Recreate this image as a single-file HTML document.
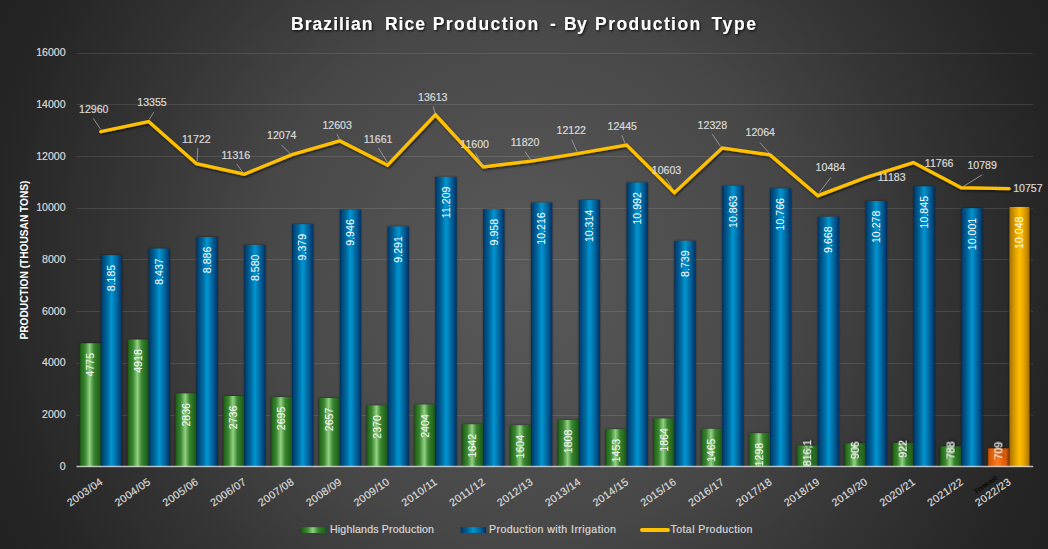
<!DOCTYPE html>
<html><head><meta charset="utf-8"><style>
html,body{margin:0;padding:0;background:#222;}
svg{display:block;}
text{font-family:"Liberation Sans", sans-serif;}
.t{stroke:#d9d9d9;stroke-width:0.2px;}
.w{stroke:#ffffff;stroke-width:0.25px;}
</style></head><body>
<svg width="1048" height="549" viewBox="0 0 1048 549">
<defs>
<radialGradient id="bg" gradientUnits="userSpaceOnUse" cx="524" cy="274" r="600">
<stop offset="0" stop-color="#5a5a5a"/>
<stop offset="0.073" stop-color="#575757"/>
<stop offset="0.447" stop-color="#474747"/>
<stop offset="0.667" stop-color="#353535"/>
<stop offset="0.895" stop-color="#252525"/>
<stop offset="0.975" stop-color="#222222"/>
<stop offset="1" stop-color="#222222"/>
</radialGradient>
<linearGradient id="gG" x1="0" x2="1" y1="0" y2="0">
<stop offset="0" stop-color="#1a4a14"/>
<stop offset="0.08" stop-color="#246c1c"/>
<stop offset="0.25" stop-color="#3a8430"/>
<stop offset="0.47" stop-color="#92d282"/>
<stop offset="0.67" stop-color="#3a8430"/>
<stop offset="0.88" stop-color="#236a1e"/>
<stop offset="1" stop-color="#1e5020"/>
</linearGradient>
<linearGradient id="gB" x1="0" x2="1" y1="0" y2="0">
<stop offset="0" stop-color="#00305a"/>
<stop offset="0.08" stop-color="#004478"/>
<stop offset="0.3" stop-color="#00689c"/>
<stop offset="0.5" stop-color="#0095d2"/>
<stop offset="0.7" stop-color="#0070a8"/>
<stop offset="0.9" stop-color="#00467e"/>
<stop offset="1" stop-color="#002f5c"/>
</linearGradient>
<linearGradient id="gY" x1="0" x2="1" y1="0" y2="0">
<stop offset="0" stop-color="#5a3a00"/>
<stop offset="0.06" stop-color="#b07a00"/>
<stop offset="0.3" stop-color="#e0a000"/>
<stop offset="0.5" stop-color="#ffbf00"/>
<stop offset="0.7" stop-color="#e8a400"/>
<stop offset="0.92" stop-color="#b07c00"/>
<stop offset="1" stop-color="#3a2a00"/>
</linearGradient>
<linearGradient id="gO" x1="0" x2="1" y1="0" y2="0">
<stop offset="0" stop-color="#a84000"/>
<stop offset="0.1" stop-color="#d85a0a"/>
<stop offset="0.45" stop-color="#ff7a1a"/>
<stop offset="0.85" stop-color="#d85a0a"/>
<stop offset="1" stop-color="#903800"/>
</linearGradient>
<filter id="tsh" x="-10%" y="-30%" width="130%" height="170%">
<feDropShadow dx="1.2" dy="1.2" stdDeviation="0.8" flood-color="#000" flood-opacity="0.8"/>
</filter>
<filter id="bsh" x="-5%" y="-5%" width="110%" height="110%">
<feGaussianBlur in="SourceAlpha" stdDeviation="1"/>
<feComponentTransfer><feFuncA type="linear" slope="0.55"/></feComponentTransfer>
<feMerge><feMergeNode/><feMergeNode in="SourceGraphic"/></feMerge>
</filter>
<filter id="lsh" x="-5%" y="-20%" width="110%" height="140%">
<feDropShadow dx="1" dy="1.5" stdDeviation="1" flood-color="#000" flood-opacity="0.6"/>
</filter>
</defs>
<rect x="0" y="0" width="1048" height="549" fill="url(#bg)"/>
<g filter="url(#tsh)"><text x="291.0" y="29.7" font-size="17.5" font-weight="bold" fill="#ffffff" textLength="81.4" lengthAdjust="spacing">Brazilian</text><text x="385.0" y="29.7" font-size="17.5" font-weight="bold" fill="#ffffff" textLength="39.9" lengthAdjust="spacing">Rice</text><text x="432.7" y="29.7" font-size="17.5" font-weight="bold" fill="#ffffff" textLength="105.5" lengthAdjust="spacing">Production</text><text x="549.9" y="29.7" font-size="17.5" font-weight="bold" fill="#ffffff" textLength="6.9" lengthAdjust="spacing">-</text><text x="564.1" y="29.7" font-size="17.5" font-weight="bold" fill="#ffffff" textLength="22.7" lengthAdjust="spacing">By</text><text x="595.1" y="29.7" font-size="17.5" font-weight="bold" fill="#ffffff" textLength="105.1" lengthAdjust="spacing">Production</text><text x="711.4" y="29.7" font-size="17.5" font-weight="bold" fill="#ffffff" textLength="44.6" lengthAdjust="spacing">Type</text></g>
<line x1="76.5" x2="1033.2" y1="415.5" y2="415.5" stroke="#ffffff" stroke-opacity="0.11" stroke-width="1"/>
<line x1="76.5" x2="1033.2" y1="363.5" y2="363.5" stroke="#ffffff" stroke-opacity="0.11" stroke-width="1"/>
<line x1="76.5" x2="1033.2" y1="311.5" y2="311.5" stroke="#ffffff" stroke-opacity="0.11" stroke-width="1"/>
<line x1="76.5" x2="1033.2" y1="259.5" y2="259.5" stroke="#ffffff" stroke-opacity="0.11" stroke-width="1"/>
<line x1="76.5" x2="1033.2" y1="208.5" y2="208.5" stroke="#ffffff" stroke-opacity="0.11" stroke-width="1"/>
<line x1="76.5" x2="1033.2" y1="156.5" y2="156.5" stroke="#ffffff" stroke-opacity="0.11" stroke-width="1"/>
<line x1="76.5" x2="1033.2" y1="104.5" y2="104.5" stroke="#ffffff" stroke-opacity="0.11" stroke-width="1"/>
<line x1="76.5" x2="1033.2" y1="53.5" y2="53.5" stroke="#ffffff" stroke-opacity="0.11" stroke-width="1"/>
<text x="65.6" y="469.9" font-size="10.6" fill="#d9d9d9" class="t" text-anchor="end">0</text>
<text x="65.6" y="418.1" font-size="10.6" fill="#d9d9d9" class="t" text-anchor="end">2000</text>
<text x="65.6" y="366.4" font-size="10.6" fill="#d9d9d9" class="t" text-anchor="end">4000</text>
<text x="65.6" y="314.7" font-size="10.6" fill="#d9d9d9" class="t" text-anchor="end">6000</text>
<text x="65.6" y="263.0" font-size="10.6" fill="#d9d9d9" class="t" text-anchor="end">8000</text>
<text x="65.6" y="211.3" font-size="10.6" fill="#d9d9d9" class="t" text-anchor="end">10000</text>
<text x="65.6" y="159.6" font-size="10.6" fill="#d9d9d9" class="t" text-anchor="end">12000</text>
<text x="65.6" y="107.9" font-size="10.6" fill="#d9d9d9" class="t" text-anchor="end">14000</text>
<text x="65.6" y="56.2" font-size="10.6" fill="#d9d9d9" class="t" text-anchor="end">16000</text>
<text transform="translate(28.1,260) rotate(-90)" font-size="10" font-weight="bold" fill="#ffffff" text-anchor="middle" textLength="159" lengthAdjust="spacingAndGlyphs">PRODUCTION (THOUSAN TONS)</text>
<g filter="url(#bsh)"><rect x="79.70" y="343.30" width="21.15" height="123.45" fill="url(#gG)"/>
<rect x="100.85" y="255.14" width="21.15" height="211.61" fill="url(#gB)"/>
<rect x="127.50" y="339.60" width="21.15" height="127.15" fill="url(#gG)"/>
<rect x="148.65" y="248.63" width="21.15" height="218.12" fill="url(#gB)"/>
<rect x="175.30" y="393.43" width="21.15" height="73.32" fill="url(#gG)"/>
<rect x="196.45" y="237.02" width="21.15" height="229.73" fill="url(#gB)"/>
<rect x="223.10" y="396.02" width="21.15" height="70.73" fill="url(#gG)"/>
<rect x="244.25" y="244.93" width="21.15" height="221.82" fill="url(#gB)"/>
<rect x="270.90" y="397.08" width="21.15" height="69.67" fill="url(#gG)"/>
<rect x="292.05" y="224.27" width="21.15" height="242.48" fill="url(#gB)"/>
<rect x="318.70" y="398.06" width="21.15" height="68.69" fill="url(#gG)"/>
<rect x="339.85" y="209.62" width="21.15" height="257.13" fill="url(#gB)"/>
<rect x="366.50" y="405.48" width="21.15" height="61.27" fill="url(#gG)"/>
<rect x="387.65" y="226.55" width="21.15" height="240.20" fill="url(#gB)"/>
<rect x="414.30" y="404.60" width="21.15" height="62.15" fill="url(#gG)"/>
<rect x="435.45" y="176.96" width="21.15" height="289.79" fill="url(#gB)"/>
<rect x="462.10" y="424.30" width="21.15" height="42.45" fill="url(#gG)"/>
<rect x="483.25" y="209.31" width="21.15" height="257.44" fill="url(#gB)"/>
<rect x="509.90" y="425.28" width="21.15" height="41.47" fill="url(#gG)"/>
<rect x="531.05" y="202.64" width="21.15" height="264.11" fill="url(#gB)"/>
<rect x="557.70" y="420.01" width="21.15" height="46.74" fill="url(#gG)"/>
<rect x="578.85" y="200.10" width="21.15" height="266.65" fill="url(#gB)"/>
<rect x="605.50" y="429.19" width="21.15" height="37.56" fill="url(#gG)"/>
<rect x="626.65" y="182.57" width="21.15" height="284.18" fill="url(#gB)"/>
<rect x="653.30" y="418.56" width="21.15" height="48.19" fill="url(#gG)"/>
<rect x="674.45" y="240.82" width="21.15" height="225.93" fill="url(#gB)"/>
<rect x="701.10" y="428.88" width="21.15" height="37.87" fill="url(#gG)"/>
<rect x="722.25" y="185.91" width="21.15" height="280.84" fill="url(#gB)"/>
<rect x="748.90" y="433.19" width="21.15" height="33.56" fill="url(#gG)"/>
<rect x="770.05" y="188.42" width="21.15" height="278.33" fill="url(#gB)"/>
<rect x="796.70" y="445.65" width="21.15" height="21.10" fill="url(#gG)"/>
<rect x="817.85" y="216.80" width="21.15" height="249.95" fill="url(#gB)"/>
<rect x="844.50" y="443.33" width="21.15" height="23.42" fill="url(#gG)"/>
<rect x="865.65" y="201.03" width="21.15" height="265.72" fill="url(#gB)"/>
<rect x="892.30" y="442.91" width="21.15" height="23.84" fill="url(#gG)"/>
<rect x="913.45" y="186.37" width="21.15" height="280.38" fill="url(#gB)"/>
<rect x="940.10" y="446.38" width="21.15" height="20.37" fill="url(#gG)"/>
<rect x="961.25" y="208.19" width="21.15" height="258.56" fill="url(#gB)"/>
<rect x="987.90" y="448.42" width="21.15" height="18.33" fill="url(#gO)"/>
<rect x="1009.05" y="206.98" width="21.15" height="259.77" fill="url(#gY)"/>
</g>
<line x1="76.5" x2="1033.2" y1="466.5" y2="466.5" stroke="#e0e0e0" stroke-opacity="0.8" stroke-width="1.3"/>
<text transform="translate(94.09,352.90) rotate(-90)" font-size="10.6" fill="#ffffff" text-anchor="end">4775</text>
<text transform="translate(115.24,264.74) rotate(-90)" font-size="10.6" fill="#ffffff" text-anchor="end">8.185</text>
<text transform="translate(141.89,349.20) rotate(-90)" font-size="10.6" fill="#ffffff" text-anchor="end">4918</text>
<text transform="translate(163.04,258.23) rotate(-90)" font-size="10.6" fill="#ffffff" text-anchor="end">8.437</text>
<text transform="translate(189.69,403.03) rotate(-90)" font-size="10.6" fill="#ffffff" text-anchor="end">2836</text>
<text transform="translate(210.84,246.62) rotate(-90)" font-size="10.6" fill="#ffffff" text-anchor="end">8.886</text>
<text transform="translate(237.49,405.62) rotate(-90)" font-size="10.6" fill="#ffffff" text-anchor="end">2736</text>
<text transform="translate(258.64,254.53) rotate(-90)" font-size="10.6" fill="#ffffff" text-anchor="end">8.580</text>
<text transform="translate(285.29,406.68) rotate(-90)" font-size="10.6" fill="#ffffff" text-anchor="end">2695</text>
<text transform="translate(306.44,233.87) rotate(-90)" font-size="10.6" fill="#ffffff" text-anchor="end">9.379</text>
<text transform="translate(333.09,407.66) rotate(-90)" font-size="10.6" fill="#ffffff" text-anchor="end">2657</text>
<text transform="translate(354.24,219.22) rotate(-90)" font-size="10.6" fill="#ffffff" text-anchor="end">9.946</text>
<text transform="translate(380.89,415.08) rotate(-90)" font-size="10.6" fill="#ffffff" text-anchor="end">2370</text>
<text transform="translate(402.04,236.15) rotate(-90)" font-size="10.6" fill="#ffffff" text-anchor="end">9.291</text>
<text transform="translate(428.69,414.20) rotate(-90)" font-size="10.6" fill="#ffffff" text-anchor="end">2404</text>
<text transform="translate(449.84,186.56) rotate(-90)" font-size="10.6" fill="#ffffff" text-anchor="end">11.209</text>
<text transform="translate(476.49,433.90) rotate(-90)" font-size="10.6" fill="#ffffff" text-anchor="end">1642</text>
<text transform="translate(497.64,218.91) rotate(-90)" font-size="10.6" fill="#ffffff" text-anchor="end">9.958</text>
<text transform="translate(524.29,434.88) rotate(-90)" font-size="10.6" fill="#ffffff" text-anchor="end">1604</text>
<text transform="translate(545.44,212.24) rotate(-90)" font-size="10.6" fill="#ffffff" text-anchor="end">10.216</text>
<text transform="translate(572.09,429.61) rotate(-90)" font-size="10.6" fill="#ffffff" text-anchor="end">1808</text>
<text transform="translate(593.24,209.70) rotate(-90)" font-size="10.6" fill="#ffffff" text-anchor="end">10.314</text>
<text transform="translate(619.89,438.79) rotate(-90)" font-size="10.6" fill="#ffffff" text-anchor="end">1453</text>
<text transform="translate(641.04,192.17) rotate(-90)" font-size="10.6" fill="#ffffff" text-anchor="end">10.992</text>
<text transform="translate(667.69,428.16) rotate(-90)" font-size="10.6" fill="#ffffff" text-anchor="end">1864</text>
<text transform="translate(688.84,250.42) rotate(-90)" font-size="10.6" fill="#ffffff" text-anchor="end">8.739</text>
<text transform="translate(715.49,438.48) rotate(-90)" font-size="10.6" fill="#ffffff" text-anchor="end">1465</text>
<text transform="translate(736.64,195.51) rotate(-90)" font-size="10.6" fill="#ffffff" text-anchor="end">10.863</text>
<text transform="translate(763.29,442.79) rotate(-90)" font-size="10.6" fill="#ffffff" text-anchor="end">1298</text>
<text transform="translate(784.44,198.02) rotate(-90)" font-size="10.6" fill="#ffffff" text-anchor="end">10.766</text>
<text transform="translate(811.09,439.70) rotate(-90)" font-size="10.6" fill="#ffffff" text-anchor="end" filter="url(#tsh)">816,1</text>
<text transform="translate(832.24,226.40) rotate(-90)" font-size="10.6" fill="#ffffff" text-anchor="end">9.668</text>
<text transform="translate(858.89,441.30) rotate(-90)" font-size="10.6" fill="#ffffff" text-anchor="end" filter="url(#tsh)">906</text>
<text transform="translate(880.04,210.63) rotate(-90)" font-size="10.6" fill="#ffffff" text-anchor="end">10.278</text>
<text transform="translate(906.69,440.00) rotate(-90)" font-size="10.6" fill="#ffffff" text-anchor="end" filter="url(#tsh)">922</text>
<text transform="translate(927.84,195.97) rotate(-90)" font-size="10.6" fill="#ffffff" text-anchor="end">10.845</text>
<text transform="translate(954.49,441.40) rotate(-90)" font-size="10.6" fill="#ffffff" text-anchor="end" filter="url(#tsh)">788</text>
<text transform="translate(975.64,217.79) rotate(-90)" font-size="10.6" fill="#ffffff" text-anchor="end">10.001</text>
<text transform="translate(1002.29,441.80) rotate(-90)" font-size="10.6" fill="#ffffff" text-anchor="end" filter="url(#tsh)">709</text>
<text transform="translate(1023.44,216.58) rotate(-90)" font-size="10.6" fill="#ffffff" text-anchor="end">10.048</text>
<polyline points="100.85,131.70 148.65,121.48 196.45,163.70 244.25,174.20 292.05,154.60 339.85,140.92 387.65,165.28 435.45,114.81 483.25,166.86 531.05,161.17 578.85,153.36 626.65,145.01 674.45,192.63 722.25,148.03 770.05,154.86 817.85,195.71 865.65,177.64 913.45,162.56 961.25,187.82 1009.05,188.65" fill="none" stroke="#ffc000" stroke-width="3.4" stroke-linejoin="miter" stroke-linecap="round" filter="url(#lsh)"/>
<line x1="93.3" y1="118.4" x2="100.6" y2="129.3" stroke="#a6a6a6" stroke-width="0.8"/>
<text x="79.0" y="113.1" font-size="10.6" fill="#d9d9d9" class="t">12960</text>
<line x1="153.7" y1="112.2" x2="149.3" y2="119.4" stroke="#a6a6a6" stroke-width="0.8"/>
<text x="137.3" y="106.1" font-size="10.6" fill="#d9d9d9" class="t">13355</text>
<line x1="197.8" y1="148" x2="197.1" y2="161.4" stroke="#a6a6a6" stroke-width="0.8"/>
<text x="182.0" y="142.9" font-size="10.6" fill="#d9d9d9" class="t">11722</text>
<line x1="236.7" y1="163.9" x2="243.3" y2="173" stroke="#a6a6a6" stroke-width="0.8"/>
<text x="221.4" y="158.6" font-size="10.6" fill="#d9d9d9" class="t">11316</text>
<line x1="281.5" y1="145" x2="291.3" y2="154.8" stroke="#a6a6a6" stroke-width="0.8"/>
<text x="267.0" y="138.5" font-size="10.6" fill="#d9d9d9" class="t">12074</text>
<line x1="337" y1="134.3" x2="340" y2="140.2" stroke="#a6a6a6" stroke-width="0.8"/>
<text x="322.4" y="128.5" font-size="10.6" fill="#d9d9d9" class="t">12603</text>
<line x1="378.4" y1="148" x2="387.2" y2="162" stroke="#a6a6a6" stroke-width="0.8"/>
<text x="363.8" y="142.5" font-size="10.6" fill="#d9d9d9" class="t">11661</text>
<line x1="433.2" y1="106.6" x2="435" y2="113.4" stroke="#a6a6a6" stroke-width="0.8"/>
<text x="418.0" y="100.8" font-size="10.6" fill="#d9d9d9" class="t">13613</text>
<line x1="475.5" y1="153.3" x2="482.2" y2="165" stroke="#a6a6a6" stroke-width="0.8"/>
<text x="460.3" y="148.3" font-size="10.6" fill="#d9d9d9" class="t">11600</text>
<line x1="525" y1="151.6" x2="531" y2="160.2" stroke="#a6a6a6" stroke-width="0.8"/>
<text x="510.7" y="145.9" font-size="10.6" fill="#d9d9d9" class="t">11820</text>
<line x1="571.7" y1="139.5" x2="578" y2="153.9" stroke="#a6a6a6" stroke-width="0.8"/>
<text x="556.5" y="133.9" font-size="10.6" fill="#d9d9d9" class="t">12122</text>
<line x1="621.8" y1="135.3" x2="625.2" y2="143.6" stroke="#a6a6a6" stroke-width="0.8"/>
<text x="607.5" y="129.6" font-size="10.6" fill="#d9d9d9" class="t">12445</text>
<line x1="666.1" y1="178.8" x2="671.9" y2="187.4" stroke="#a6a6a6" stroke-width="0.8"/>
<text x="651.8" y="174.0" font-size="10.6" fill="#d9d9d9" class="t">10603</text>
<line x1="712" y1="133.8" x2="720.5" y2="146.4" stroke="#a6a6a6" stroke-width="0.8"/>
<text x="697.6" y="128.8" font-size="10.6" fill="#d9d9d9" class="t">12328</text>
<line x1="759.8" y1="142.4" x2="769.7" y2="153.7" stroke="#a6a6a6" stroke-width="0.8"/>
<text x="745.5" y="135.9" font-size="10.6" fill="#d9d9d9" class="t">12064</text>
<line x1="831" y1="177.3" x2="819.3" y2="192.5" stroke="#a6a6a6" stroke-width="0.8"/>
<text x="815.6" y="170.8" font-size="10.6" fill="#d9d9d9" class="t">10484</text>
<text x="877.7" y="181.1" font-size="10.6" fill="#d9d9d9" class="t">11183</text>
<text x="924.8" y="166.7" font-size="10.6" fill="#d9d9d9" class="t">11766</text>
<line x1="982.3" y1="174.7" x2="962.4" y2="187" stroke="#a6a6a6" stroke-width="0.8"/>
<text x="967.4" y="169.2" font-size="10.6" fill="#d9d9d9" class="t">10789</text>
<text x="1013.2" y="191.8" font-size="10.6" fill="#d9d9d9" class="t">10757</text>
<text transform="translate(103.35,483.50) rotate(-35)" font-size="10.6" fill="#d9d9d9" class="t" text-anchor="end" textLength="40.5" lengthAdjust="spacing">2003/04</text>
<text transform="translate(151.15,483.50) rotate(-35)" font-size="10.6" fill="#d9d9d9" class="t" text-anchor="end" textLength="40.5" lengthAdjust="spacing">2004/05</text>
<text transform="translate(198.95,483.50) rotate(-35)" font-size="10.6" fill="#d9d9d9" class="t" text-anchor="end" textLength="40.5" lengthAdjust="spacing">2005/06</text>
<text transform="translate(246.75,483.50) rotate(-35)" font-size="10.6" fill="#d9d9d9" class="t" text-anchor="end" textLength="40.5" lengthAdjust="spacing">2006/07</text>
<text transform="translate(294.55,483.50) rotate(-35)" font-size="10.6" fill="#d9d9d9" class="t" text-anchor="end" textLength="40.5" lengthAdjust="spacing">2007/08</text>
<text transform="translate(342.35,483.50) rotate(-35)" font-size="10.6" fill="#d9d9d9" class="t" text-anchor="end" textLength="40.5" lengthAdjust="spacing">2008/09</text>
<text transform="translate(390.15,483.50) rotate(-35)" font-size="10.6" fill="#d9d9d9" class="t" text-anchor="end" textLength="40.5" lengthAdjust="spacing">2009/10</text>
<text transform="translate(437.95,483.50) rotate(-35)" font-size="10.6" fill="#d9d9d9" class="t" text-anchor="end" textLength="40.5" lengthAdjust="spacing">2010/11</text>
<text transform="translate(485.75,483.50) rotate(-35)" font-size="10.6" fill="#d9d9d9" class="t" text-anchor="end" textLength="40.5" lengthAdjust="spacing">2011/12</text>
<text transform="translate(533.55,483.50) rotate(-35)" font-size="10.6" fill="#d9d9d9" class="t" text-anchor="end" textLength="40.5" lengthAdjust="spacing">2012/13</text>
<text transform="translate(581.35,483.50) rotate(-35)" font-size="10.6" fill="#d9d9d9" class="t" text-anchor="end" textLength="40.5" lengthAdjust="spacing">2013/14</text>
<text transform="translate(629.15,483.50) rotate(-35)" font-size="10.6" fill="#d9d9d9" class="t" text-anchor="end" textLength="40.5" lengthAdjust="spacing">2014/15</text>
<text transform="translate(676.95,483.50) rotate(-35)" font-size="10.6" fill="#d9d9d9" class="t" text-anchor="end" textLength="40.5" lengthAdjust="spacing">2015/16</text>
<text transform="translate(724.75,483.50) rotate(-35)" font-size="10.6" fill="#d9d9d9" class="t" text-anchor="end" textLength="40.5" lengthAdjust="spacing">2016/17</text>
<text transform="translate(772.55,483.50) rotate(-35)" font-size="10.6" fill="#d9d9d9" class="t" text-anchor="end" textLength="40.5" lengthAdjust="spacing">2017/18</text>
<text transform="translate(820.35,483.50) rotate(-35)" font-size="10.6" fill="#d9d9d9" class="t" text-anchor="end" textLength="40.5" lengthAdjust="spacing">2018/19</text>
<text transform="translate(868.15,483.50) rotate(-35)" font-size="10.6" fill="#d9d9d9" class="t" text-anchor="end" textLength="40.5" lengthAdjust="spacing">2019/20</text>
<text transform="translate(915.95,483.50) rotate(-35)" font-size="10.6" fill="#d9d9d9" class="t" text-anchor="end" textLength="40.5" lengthAdjust="spacing">2020/21</text>
<text transform="translate(963.75,483.50) rotate(-35)" font-size="10.6" fill="#d9d9d9" class="t" text-anchor="end" textLength="40.5" lengthAdjust="spacing">2021/22</text>
<text transform="translate(1011.55,483.50) rotate(-35)" font-size="10.6" fill="#d9d9d9" class="t" text-anchor="end" textLength="40.5" lengthAdjust="spacing">2022/23</text>
<text transform="translate(997.5,479) rotate(-35)" font-size="6.6" fill="#080808" stroke="#080808" stroke-width="0.25" text-anchor="end">Forecast</text>
<rect x="300.7" y="527.2" width="26" height="5.8" fill="url(#gG)"/>
<text x="330" y="533" font-size="10.6" fill="#d9d9d9" class="t" textLength="104" lengthAdjust="spacing">Highlands Production</text>
<rect x="460.7" y="527.2" width="25.3" height="5.8" fill="url(#gB)"/>
<text x="489" y="533" font-size="10.6" fill="#d9d9d9" class="t" textLength="127" lengthAdjust="spacing">Production with Irrigation</text>
<line x1="642" x2="668" y1="530" y2="530" stroke="#ffc000" stroke-width="4" stroke-linecap="round"/>
<text x="670.5" y="533" font-size="10.6" fill="#d9d9d9" class="t" textLength="82" lengthAdjust="spacing">Total Production</text>
</svg></body></html>
